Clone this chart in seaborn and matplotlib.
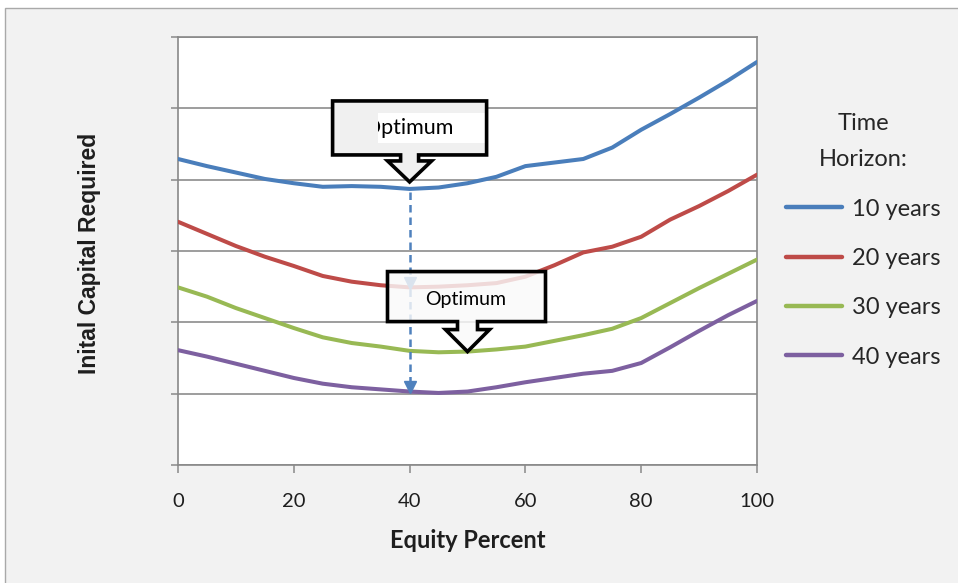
import numpy as np
import pandas as pd
import matplotlib
matplotlib.use("Agg")
import matplotlib.pyplot as plt
from matplotlib.patches import Polygon, Rectangle
from matplotlib.transforms import IdentityTransform
import seaborn as sns

# Equity share of the portfolio (%)
equity = [0, 5, 10, 15, 20, 25, 30, 35, 40, 45, 50,
          55, 60, 65, 70, 75, 80, 85, 90, 95, 100]

# Initial capital required for each time horizon (relative units)
cap_10y = [4.29, 4.19, 4.10, 4.01, 3.95, 3.90, 3.91, 3.90, 3.87, 3.89, 3.95,
           4.04, 4.19, 4.24, 4.29, 4.45, 4.70, 4.92, 5.15, 5.39, 5.65]
cap_20y = [3.41, 3.24, 3.07, 2.92, 2.79, 2.65, 2.57, 2.52, 2.49, 2.50, 2.52,
           2.55, 2.64, 2.80, 2.98, 3.06, 3.20, 3.44, 3.63, 3.84, 4.07]
cap_30y = [2.49, 2.36, 2.20, 2.06, 1.92, 1.79, 1.71, 1.66, 1.60, 1.58, 1.59,
           1.62, 1.66, 1.74, 1.82, 1.91, 2.06, 2.27, 2.48, 2.68, 2.88]
cap_40y = [1.61, 1.52, 1.42, 1.32, 1.22, 1.14, 1.09, 1.06, 1.03, 1.01, 1.03,
           1.09, 1.16, 1.22, 1.28, 1.32, 1.43, 1.65, 1.88, 2.10, 2.30]

horizons = ["10 years", "20 years", "30 years", "40 years"]
colors = ["#4a7ebb", "#be4b48", "#98b954", "#7d60a0"]
x_ticks = [0, 20, 40, 60, 80, 100]
callout_text = "Optimum"

series = dict(zip(horizons, [cap_10y, cap_20y, cap_30y, cap_40y]))
df = pd.concat(
    [pd.DataFrame({"Equity Percent": equity, "Capital": vals, "Horizon": h})
     for h, vals in series.items()],
    ignore_index=True,
)

sns.set_style("white")
plt.rcParams["font.family"] = ["Lato", "DejaVu Sans"]

W, H = 958, 583
fig = plt.figure(figsize=(W / 100, H / 100), dpi=100, facecolor="white")

# light grey chart panel behind everything
fig.patches.append(Rectangle((5 / W, -0.05), 1.1, (H - 8) / H + 0.05,
                             transform=fig.transFigure, facecolor="#f2f2f2",
                             edgecolor="#a9a9a9", linewidth=1.0, zorder=-5))

ax = fig.add_axes([178 / W, 1 - 465 / H, (757 - 178) / W, (465 - 37) / H])
ax.set_facecolor("white")

sns.lineplot(data=df, x="Equity Percent", y="Capital", hue="Horizon",
             hue_order=horizons, palette=colors, linewidth=2.9,
             ax=ax, legend=True, zorder=3)
for line in ax.get_lines():
    line.set_solid_joinstyle("round")
    line.set_solid_capstyle("round")

ax.set_xlim(0, 100)
ax.set_ylim(0, 6)
ax.set_xticks(x_ticks)
ax.set_xticklabels([str(t) for t in x_ticks], fontsize=14.5, color="#1e1e1e")
ax.set_yticks(range(0, 7))
ax.set_yticklabels([])
ax.tick_params(axis="x", length=6, width=1.1, color="#898989", pad=14,
               direction="out", bottom=True)
ax.tick_params(axis="y", length=5, width=1.1, color="#898989",
               direction="out", left=True)
ax.yaxis.grid(True, color="#8c8c8c", linewidth=1.2)
ax.xaxis.grid(False)
for sp in ax.spines.values():
    sp.set_visible(True)
    sp.set_color("#898989")
    sp.set_linewidth(1.2)

ax.set_xlabel("Equity Percent", fontsize=17, fontweight="bold",
              color="#1e1e1e", labelpad=14)
ax.set_ylabel("Inital Capital Required", fontsize=16.5, fontweight="bold",
              color="#1e1e1e", family=["Liberation Sans", "DejaVu Sans"])
ax.yaxis.set_label_coords(-0.133, 0.495)

# legend
handles, labels = ax.get_legend_handles_labels()
leg = ax.legend(handles, labels, title="Time\nHorizon:", loc="upper left",
                bbox_to_anchor=(786 / W, 1 - 113 / H),
                bbox_transform=fig.transFigure, frameon=False,
                fontsize=17, title_fontsize=17, handlelength=2.37,
                handletextpad=0.42, labelspacing=1.2, borderpad=0,
                borderaxespad=0)
for line in leg.get_lines():
    line.set_linewidth(3.2)
for t in leg.get_texts():
    t.set_color("#262626")
title = leg.get_title()
title.set_color("#262626")
title.set_linespacing(1.9)
title.set_multialignment("center")

# dashed arrows marking the optimum of the shortest horizon
opt_x = equity[int(np.argmin(cap_10y))]
i_opt = equity.index(opt_x)
dash_col = "#4f81bd"
ax.plot([opt_x, opt_x], [cap_10y[i_opt] - 0.04, cap_20y[i_opt] + 0.06],
        color=dash_col, lw=1.8, ls=(0, (3.0, 2.0)), zorder=4)
ax.plot([opt_x, opt_x], [cap_20y[i_opt] - 0.02, cap_40y[i_opt] + 0.06],
        color=dash_col, lw=1.8, ls=(0, (3.0, 2.0)), zorder=4)
for yv in (cap_20y[i_opt], cap_40y[i_opt]):
    ax.plot([opt_x], [yv + 0.06], marker="v", markersize=8,
            color=dash_col, zorder=4)


def callout(anchor, lift, box, shaft, head, fill, alpha, text_off,
            fontsize, inner=None):
    """Draw a box with a downward block arrow whose tip sits above anchor."""
    tx, ty = ax.transData.transform(anchor)
    ty += lift
    l, r, t, b = box
    sh = shaft
    hw, hy = head
    pts = [(l, t), (r, t), (r, b), (sh, b), (sh, hy), (hw, hy), (0, 0),
           (-hw, hy), (-sh, hy), (-sh, b), (l, b)]
    pts = [(tx + px, ty + py) for px, py in pts]
    fillp = Polygon(pts, closed=True, transform=IdentityTransform(),
                    facecolor=fill, edgecolor="none", alpha=alpha, zorder=6)
    edge = Polygon(pts, closed=True, transform=IdentityTransform(),
                   facecolor="none", edgecolor="black", linewidth=2.6,
                   joinstyle="miter", zorder=8)
    fig.patches.extend([fillp, edge])
    clip = None
    if inner is not None:
        il, ir, it, ib = inner
        clip = Rectangle((tx + il, ty + ib), ir - il, it - ib,
                         transform=IdentityTransform(),
                         facecolor="white", edgecolor="none", zorder=7)
        fig.patches.append(clip)
    txt = fig.text(tx + text_off[0], ty + text_off[1], callout_text,
                   fontsize=fontsize, color="black", ha="center",
                   va="center", zorder=9, transform=IdentityTransform())
    if clip is not None:
        txt.set_clip_path(clip)


fig.canvas.draw()
callout((opt_x, cap_10y[i_opt]), 7, (-77, 77, 81, 27), 9, (22, 21),
        "#f0f0f0", 1.0, (-1, 54), 15.5, inner=(-32, 75, 69, 39))
callout((50, cap_30y[equity.index(50)]), 0, (-80, 78, 80, 30), 10, (22, 22),
        "#fafafa", 0.82, (-2, 52), 14)

fig.savefig("out.png", dpi=100, facecolor="white")
